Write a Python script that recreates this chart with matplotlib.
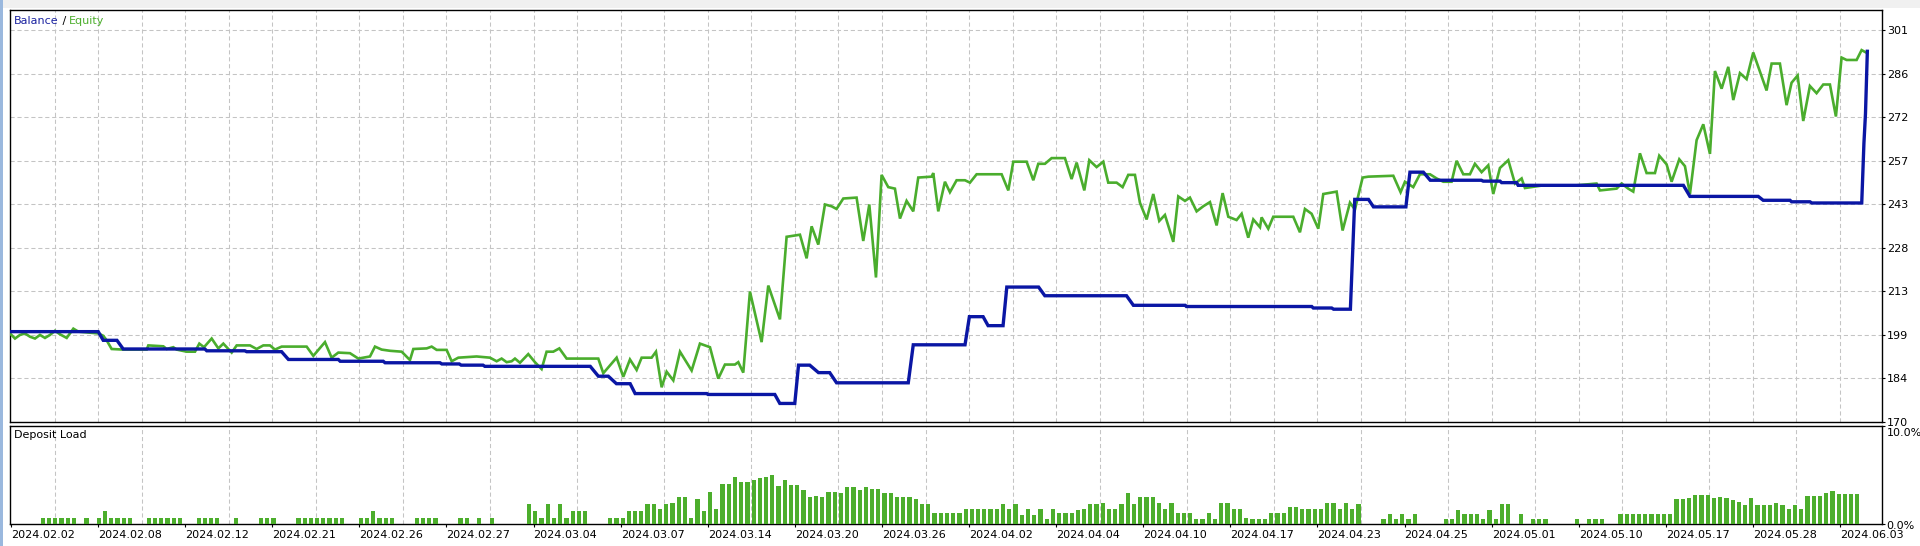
import matplotlib
matplotlib.use("Agg")
import matplotlib.pyplot as plt
import matplotlib.transforms as mtransforms
from matplotlib.patches import Rectangle
import numpy as np

plt.rcParams['font.family'] = ['DejaVu Sans']
plt.rcParams['font.size'] = 8
plt.rcParams['lines.scale_dashes'] = False

# ---------------- data ----------------
date_labels = ['2024.02.02', '2024.02.08', '2024.02.12', '2024.02.21', '2024.02.26',
               '2024.02.27', '2024.03.04', '2024.03.07', '2024.03.14', '2024.03.20',
               '2024.03.26', '2024.04.02', '2024.04.04', '2024.04.10', '2024.04.17',
               '2024.04.23', '2024.04.25', '2024.05.01', '2024.05.10', '2024.05.17',
               '2024.05.28', '2024.06.03']
y_tick_labels = ['170', '184', '199', '213', '228', '243', '257', '272', '286', '301']
load_tick_labels = ['0.0%', '10.0%']

balance_x = [-0.25, 13.9, 14.7, 16.9, 17.9, 31.0, 31.3, 37.4, 37.7, 43.3, 44.4, 52.4, 52.7,
             59.6, 59.9, 68.7, 69.0, 71.8, 72.1, 75.6, 75.9, 92.8, 94.1, 95.7, 97.0, 99.2,
             100.0, 111.5, 111.7, 122.4, 123.2, 125.6, 126.2, 128.0, 129.4, 131.2, 132.3,
             143.8, 144.6, 152.9, 153.6, 155.8, 156.6, 159.0, 159.6, 164.7, 165.7, 178.8,
             179.9, 188.2, 188.4, 208.5, 208.75, 211.7, 212.0, 214.7, 215.4, 217.6, 218.4,
             223.6, 224.25, 226.4, 227.5, 235.7, 236.0, 238.7, 238.95, 241.35, 241.6, 268.1,
             269.15, 280.1, 280.9, 285.2, 285.45, 288.4, 288.7, 296.7, 297.05, 297.3, 297.6]
balance_val = [200.2, 200.2, 197.3, 197.3, 194.4, 194.4, 193.8, 193.8, 193.5, 193.5, 190.9,
               190.9, 190.3, 190.3, 189.8, 189.8, 189.4, 189.4, 189.0, 189.0, 188.6, 188.6,
               185.3, 185.3, 182.8, 182.8, 179.5, 179.5, 179.2, 179.2, 176.2, 176.2, 189.0,
               189.0, 186.5, 186.5, 183.1, 183.1, 195.8, 195.8, 205.2, 205.2, 202.2, 202.2,
               215.1, 215.1, 212.2, 212.2, 209.0, 209.0, 208.6, 208.6, 208.1, 208.1, 207.7,
               207.7, 244.4, 244.4, 241.9, 241.9, 253.5, 253.5, 250.8, 250.8, 250.5, 250.5,
               250.0, 250.0, 249.1, 249.1, 245.4, 245.4, 244.1, 244.1, 243.6, 243.6, 243.2,
               243.2, 263.1, 273.0, 293.9]

equity_x = [-0.25, 0.55, 1.35, 2.15, 2.96, 3.76, 4.56, 5.36, 6.16, 6.97, 7.77, 8.84, 9.91,
            10.71, 13.92, 14.72, 15.25, 16.05, 17.92, 21.67, 21.93, 24.34, 24.87, 25.94,
            26.48, 28.08, 29.42, 30.11, 30.86, 32.09, 33.16, 33.96, 34.76, 35.30, 36.10,
            38.24, 39.30, 40.37, 41.44, 42.24, 43.31, 47.32, 48.39, 50.26, 51.33, 52.4,
            54.27, 55.61, 57.48, 58.28, 59.35, 60.69, 62.56, 63.89, 64.43, 66.57, 67.37,
            68.17, 69.77, 70.58, 71.64, 74.58, 76.72, 77.79, 78.59, 79.39, 80.19, 80.73,
            81.53, 82.86, 83.93, 85.0, 85.80, 86.87, 87.84, 89.01, 94.09, 94.89, 97.03,
            98.10, 99.17, 100.24, 101.04, 102.64, 103.34, 104.25, 105.05, 106.12, 107.19,
            109.06, 110.39, 112.0, 113.33, 114.4, 116.0, 116.54, 117.34, 118.41, 120.28,
            121.35, 123.22, 124.29, 126.43, 127.5, 128.3, 129.37, 130.44, 131.5, 132.3,
            133.38, 135.51, 136.58, 137.55, 138.62, 139.52, 140.59, 141.66, 142.47, 143.53,
            144.6, 145.4, 147.54, 147.81, 148.61, 149.68, 150.48, 151.55, 152.89, 153.69,
            154.76, 158.77, 159.84, 160.64, 162.78, 163.85, 164.65, 165.72, 166.79, 168.92,
            169.99, 170.80, 172.03, 172.83, 174.0, 175.07, 175.87, 177.21, 178.17, 179.08,
            180.15, 180.95, 182.02, 183.09, 184.05, 184.96, 186.3, 187.1, 188.17, 188.97,
            190.04, 191.11, 192.18, 193.25, 194.21, 195.12, 196.45, 197.26, 198.32, 199.13,
            200.2, 200.46, 201.53, 202.33, 205.54, 206.61, 207.41, 208.48, 209.55, 210.35,
            212.49, 213.45, 214.63, 215.43, 216.66, 217.57, 221.58, 222.75, 223.45, 224.78,
            225.85, 227.46, 228.53, 229.6, 230.93, 231.73, 232.8, 233.87, 234.67, 235.74,
            236.81, 237.61, 238.68, 240.02, 241.09, 242.16, 242.69, 245.63, 250.98, 254.18,
            254.72, 257.39, 258.19, 259.26, 260.06, 261.13, 262.2, 263.54, 264.23, 265.41,
            266.21, 267.44, 268.35, 269.15, 270.22, 271.29, 272.36, 273.16, 274.23, 275.3,
            276.1, 277.17, 278.24, 279.3, 281.44, 282.25, 283.58, 284.65, 285.45, 286.42,
            287.32, 288.39, 289.46, 290.53, 291.6, 292.56, 293.47, 294.27, 295.88, 296.68,
            297.48]
equity_val = [199.6, 197.9, 199.1, 199.6, 198.5, 197.9, 199.1, 198.1, 199.1, 200.5, 199.3,
              198.1, 201.2, 200.2, 199.6, 198.8, 197.3, 194.4, 194.2, 194.2, 195.6, 195.3,
              194.4, 195.0, 194.2, 193.5, 193.5, 196.2, 195.0, 197.9, 194.6, 196.2, 194.4,
              193.2, 195.6, 195.6, 194.4, 195.6, 195.6, 194.2, 195.2, 195.2, 192.1, 196.7,
              191.5, 193.2, 193.0, 191.2, 191.9, 195.2, 194.2, 193.8, 193.5, 190.7, 194.4,
              194.6, 195.2, 194.1, 194.1, 190.3, 191.5, 191.9, 191.5, 190.3, 191.2, 190.0,
              190.3, 191.2, 189.8, 192.7, 190.0, 187.7, 193.5, 193.5, 194.6, 191.2, 191.2,
              186.3, 191.5, 185.1, 190.9, 187.4, 191.5, 191.5, 193.5, 181.6, 186.8, 183.9,
              193.5, 187.2, 196.2, 195.0, 184.5, 189.2, 189.2, 190.0, 186.5, 213.6, 196.7,
              215.6, 204.3, 231.9, 232.6, 224.7, 235.4, 229.3, 242.7, 242.1, 241.2, 244.7,
              245.0, 230.5, 242.7, 218.3, 252.6, 248.5, 248.0, 238.0, 243.9, 240.4, 251.7,
              252.0, 253.2, 240.4, 250.3, 246.8, 250.8, 250.8, 250.0, 252.8, 252.8, 247.4,
              257.0, 257.0, 250.8, 256.3, 256.3, 258.2, 258.2, 251.2, 256.7, 247.4, 257.5,
              255.2, 257.0, 250.0, 250.0, 248.5, 252.6, 252.6, 243.3, 237.7, 246.2, 237.2,
              239.2, 230.2, 245.4, 243.9, 245.0, 240.4, 242.1, 243.5, 235.7, 246.5, 238.6,
              237.5, 239.6, 231.6, 237.7, 235.1, 238.4, 234.6, 238.6, 238.6, 233.4, 241.2,
              239.6, 234.6, 246.2, 247.0, 234.0, 243.3, 241.0, 251.7, 252.0, 252.3, 246.8,
              250.3, 248.5, 252.8, 252.8, 251.4, 250.3, 250.3, 257.3, 252.8, 252.8, 256.3,
              253.5, 255.8, 246.2, 254.9, 257.5, 249.7, 251.4, 248.2, 249.1, 249.1, 249.7,
              247.4, 248.0, 249.7, 248.0, 247.0, 259.8, 253.2, 253.2, 259.0, 256.1, 250.3,
              257.8, 255.5, 246.2, 264.2, 269.5, 259.6, 287.3, 281.4, 288.7, 277.6, 286.6,
              284.6, 293.5, 280.8, 289.8, 289.8, 275.9, 283.4, 285.8, 270.6, 282.3, 279.9,
              282.8, 282.8, 272.1, 291.8, 291.0, 291.0, 294.3, 293.4]

# deposit load (%) per bar slot, slots 0..296
deposit_load = [
    0, 0, 0, 0, 0, 0.6, 0.6, 0.6, 0.6, 0.6, 0.6, 0, 0.6, 0, 0.6, 1.3, 0.6, 0.6, 0.6, 0.6, 0, 0,
    0.6, 0.6, 0.6, 0.6, 0.6, 0.6, 0, 0, 0.6, 0.6, 0.6, 0.6, 0, 0, 0.6, 0, 0, 0, 0.6, 0.6, 0.6,
    0, 0, 0,
    0.6, 0.6, 0.6, 0.6, 0.6, 0.6, 0.6, 0.6, 0, 0, 0.6, 0.6, 1.3, 0.6, 0.6, 0.6, 0, 0, 0,
    0.6, 0.6, 0.6, 0.6, 0, 0, 0, 0.6, 0.6, 0, 0.6, 0, 0.6, 0, 0, 0, 0, 0,
    2.0, 1.3, 0.6, 2.0, 0.6, 2.0, 0.6, 1.3, 1.3, 1.3, 0, 0, 0,
    0.6, 0.6, 0.6, 1.3, 1.3, 1.3, 2.0, 2.0, 1.5, 2.0, 2.1, 2.7, 2.7, 0.6, 2.5, 1.3, 3.2, 1.5,
    4.0, 4.0, 4.7, 4.2, 4.2, 4.4, 4.6, 4.7, 4.9, 3.8, 4.4, 3.9, 3.9, 3.4, 2.7, 2.8, 2.7, 3.2,
    3.2, 3.1, 3.7, 3.7, 3.4, 3.7, 3.5, 3.5, 3.1, 3.1, 2.7, 2.7, 2.7, 2.5, 2.0, 2.0, 1.1, 1.1, 1.1,
    1.1, 1.1, 1.5, 1.5, 1.5, 1.5, 1.5, 1.5, 2.0, 1.5, 2.0, 0.9, 1.5, 0.9, 1.5, 0.5, 1.5, 1.1,
    1.1, 1.1, 1.4, 1.5, 2.0, 2.0, 2.1, 1.5, 1.5, 2.0, 3.1, 2.0, 2.7, 2.7, 2.7, 2.1, 1.5, 2.1,
    1.1, 1.1, 1.1, 0.5, 0.5, 1.1, 0.5, 2.1, 2.1, 1.5, 1.5, 0.6, 0.5, 0.5, 0.5, 1.1, 1.1, 1.1,
    1.7, 1.7, 1.5, 1.5, 1.5, 1.5, 2.1, 2.1, 1.5, 2.1, 1.5, 2.0,
    0, 0, 0, 0.5, 1.0, 0.5, 1.0, 0.5, 1.0, 0, 0, 0, 0, 0.5, 0.5, 1.4, 1.0, 1.0, 1.0, 0.5, 1.4,
    0.5, 2.0, 2.0, 0, 1.0, 0, 0.5, 0.5, 0.5, 0, 0, 0, 0, 0.5, 0, 0.5, 0.5, 0.5, 0, 0,
    1.0, 1.0, 1.0, 1.0, 1.0, 1.0, 1.0, 1.0, 1.0,
    2.45, 2.45, 2.65, 2.9, 2.9, 2.9, 2.65, 2.75, 2.65, 2.35, 2.2, 1.85, 2.65, 1.85, 1.85, 1.9,
    2.1, 1.9, 1.5, 1.9, 1.5, 2.8, 2.8, 2.8, 3.1, 3.3, 3.0, 3.0, 3.0, 3.0]

# ---------------- layout ----------------
W, H = 1920, 546
fig = plt.figure(figsize=(W / 100, H / 100), dpi=100)
fig.patch.set_facecolor('white')
fig.patches.append(Rectangle((0, 1 - 8 / H), 1, 8 / H, transform=fig.transFigure,
                             facecolor='#f0f0f0', edgecolor='none', zorder=-5))
fig.patches.append(Rectangle((0, 0), 3 / W, 1, transform=fig.transFigure,
                             facecolor='#9ab8de', edgecolor='none', zorder=-4))

left, right = 10, 1882
ax = fig.add_axes([left / W, 1 - 422 / H, (right - left) / W, (422 - 10) / H])
ax2 = fig.add_axes([left / W, 1 - 523.5 / H, (right - left) / W, (523.5 - 425.5) / H])

XMIN, XMAX = -0.25, 299.95
label_step = 13.967
label_pos = np.arange(len(date_labels)) * label_step - 0.09
grid_pos = np.arange(1, 2 * len(date_labels) + 1) * (label_step / 2) - 0.09
grid_pos = grid_pos[grid_pos < XMAX]

grid_kw = dict(color='#c4c4c4', linewidth=0.75, linestyle=(0, (3.0, 2.0)))
BLUE = '#0a16a4'
GREEN = '#4aad2d'

# main panel
ax.plot(equity_x, equity_val, color=GREEN, linewidth=1.9, zorder=3, solid_joinstyle='miter')
ax.plot(balance_x, balance_val, color=BLUE, linewidth=2.4, zorder=4, solid_joinstyle='miter')
ax.set_xlim(XMIN, XMAX)
ax.set_ylim(170, 307.7)
ax.set_xticks(grid_pos)
ax.tick_params(axis='x', length=0, labelbottom=False)
ax.set_yticks(np.linspace(170, 301, len(y_tick_labels)))
ax.set_yticklabels(y_tick_labels)
ax.yaxis.tick_right()
ax.tick_params(axis='y', length=2.2, width=0.8, pad=1.2, labelsize=8, colors='black')
ax.grid(True, **grid_kw)
ax.set_axisbelow(True)

# bottom panel
ax2.bar(np.arange(len(deposit_load)), deposit_load, width=0.68, color='#4cae2c',
        linewidth=0, zorder=3)
ax2.set_xlim(XMIN, XMAX)
ax2.set_ylim(0, 10)
ax2.set_xticks(label_pos)
ax2.set_xticklabels(date_labels)
ax2.set_xticks(grid_pos, minor=True)
ax2.tick_params(axis='x', which='major', length=2.2, width=0.8, pad=2.2, labelsize=8)
ax2.tick_params(axis='x', which='minor', length=0)
for t in ax2.get_xticklabels():
    t.set_ha('left')
ax2.grid(True, axis='x', which='minor', **grid_kw)
ax2.set_axisbelow(True)
ax2.set_yticks([0, 10])
ax2.set_yticklabels(load_tick_labels)
ax2.yaxis.tick_right()
ax2.tick_params(axis='y', length=2.2, width=0.8, pad=1.2, labelsize=8)
yl = ax2.get_yticklabels()
yl[0].set_va('center')
yl[0].set_transform(yl[0].get_transform() + mtransforms.ScaledTranslation(0, -2.5 / 100, fig.dpi_scale_trans))
yl[1].set_va('top')
yl[1].set_transform(yl[1].get_transform() + mtransforms.ScaledTranslation(0, -2.5 / 100, fig.dpi_scale_trans))

for a in (ax, ax2):
    for s in a.spines.values():
        s.set_linewidth(1.0)
        s.set_color('black')

# titles
t1 = fig.text(14 / W, 1 - 21 / H, 'Balance', color='#1a22a0', fontsize=8, va='center', ha='left')
t2 = ax.annotate(' / ', xy=(1, 0), xycoords=t1, va='bottom', ha='left', color='black', fontsize=8)
t3 = ax.annotate('Equity', xy=(1, 0), xycoords=t2, va='bottom', ha='left', color='#4cae2c', fontsize=8)
fig.text(14 / W, 1 - 435 / H, 'Deposit Load', color='black', fontsize=8, va='center', ha='left')

fig.savefig('out.png', dpi=100, facecolor=fig.get_facecolor())
